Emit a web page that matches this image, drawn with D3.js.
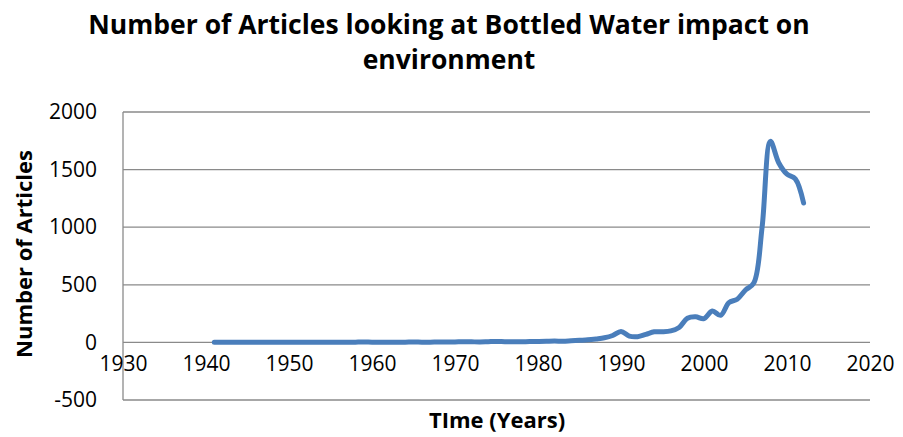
<!DOCTYPE html>
<html>
<head>
<meta charset="utf-8">
<script src="https://cdn.jsdelivr.net/npm/d3@7"></script>
<style>
  body { margin: 0; background: #fff; }
  text { font-family: "Open Sans", "Liberation Sans", sans-serif; fill: #000; }
</style>
</head>
<body>
<script>
// Data
var years = d3.range(1941, 2013);
var articles = [
  1, 1, 1, 1, 1, 1, 1, 1, 1, 1,          // 1941-1950
  1, 1, 2, 2, 2, 1, 1, 2, 3, 2,          // 1951-1960
  2, 1, 2, 2, 3, 2, 2, 3, 3, 4,          // 1961-1970
  6, 5, 4, 6, 8, 6, 5, 6, 7, 8,          // 1971-1980
  10, 12, 10, 14, 18, 22, 30, 40, 60, 95, // 1981-1990
  55, 50, 70, 92, 92, 100, 130, 210, 222, 206, // 1991-2000
  272, 235, 345, 375, 455, 515, 1000, 1745, 1560, 1460, 1420, 1210 // 2001-2012
];
var yTicks = [-500, 0, 500, 1000, 1500, 2000];
var xTicks = [1930, 1940, 1950, 1960, 1970, 1980, 1990, 2000, 2010, 2020];

var data = years.map(function(y, i) { return { year: y, value: articles[i] }; });

var svgWidth = 903, svgHeight = 437;
var margin = { top: 112, bottom: 37, left: 123, right: 33 };
var width = svgWidth - margin.left - margin.right;
var height = svgHeight - margin.top - margin.bottom;

var svg = d3.select("body").append("svg")
  .attr("width", svgWidth)
  .attr("height", svgHeight);

var chartGroup = svg.append("g")
  .attr("transform", `translate(${margin.left}, ${margin.top})`);

var xScale = d3.scaleLinear().domain([1930, 2020]).range([0, width]);
var yScale = d3.scaleLinear().domain([-500, 2000]).range([height, 0]);

// Gridlines
chartGroup.selectAll(".grid")
  .data(yTicks).enter()
  .append("line")
  .attr("class", "grid")
  .attr("x1", 0)
  .attr("x2", width)
  .attr("y1", d => yScale(d))
  .attr("y2", d => yScale(d))
  .attr("stroke", "#8a8a8a")
  .attr("stroke-width", 1.3);

// Vertical axis line
chartGroup.append("line")
  .attr("x1", 0).attr("x2", 0)
  .attr("y1", 0).attr("y2", height)
  .attr("stroke", "#8a8a8a")
  .attr("stroke-width", 1.3);

// Y axis labels
var yAxis = d3.axisLeft(yScale).tickValues(yTicks).tickFormat(d => String(d)).tickSize(0).tickPadding(26);
chartGroup.append("g")
  .attr("class", "y-axis")
  .call(yAxis)
  .call(g => g.select(".domain").remove())
  .selectAll("text")
  .attr("font-size", 21)
  .attr("font-family", "Open Sans")
  .attr("fill", "#000");

// X axis labels sit under the zero line
var xAxis = d3.axisBottom(xScale).tickValues(xTicks).tickFormat(d => String(d)).tickSize(0).tickPadding(14);
chartGroup.append("g")
  .attr("class", "x-axis")
  .attr("transform", `translate(0, ${yScale(0)})`)
  .call(xAxis)
  .call(g => g.select(".domain").remove())
  .selectAll("text")
  .attr("font-size", 21)
  .attr("font-family", "Open Sans")
  .attr("fill", "#000");

// Line
var line = d3.line()
  .x(d => xScale(d.year))
  .y(d => yScale(d.value))
  .curve(d3.curveCatmullRom.alpha(0.5));

chartGroup.append("path")
  .datum(data)
  .attr("d", line)
  .attr("fill", "none")
  .attr("stroke", "#4a7ebb")
  .attr("stroke-width", 5)
  .attr("stroke-linecap", "round")
  .attr("stroke-linejoin", "round");

// Title
var title = svg.append("text")
  .attr("text-anchor", "middle")
  .attr("font-weight", "bold")
  .attr("font-size", 26.5);
title.append("tspan").attr("x", 449).attr("y", 34).text("Number of Articles looking at Bottled Water impact on");
title.append("tspan").attr("x", 449).attr("y", 69).text("environment");

// Axis titles
svg.append("text")
  .attr("text-anchor", "middle")
  .attr("font-weight", "bold")
  .attr("font-size", 22)
  .attr("x", 497)
  .attr("y", 428)
  .text("TIme (Years)");

svg.append("text")
  .attr("text-anchor", "middle")
  .attr("font-weight", "bold")
  .attr("font-size", 22)
  .attr("transform", "translate(32, 254) rotate(270)")
  .text("Number of Articles");
</script>
</body>
</html>
